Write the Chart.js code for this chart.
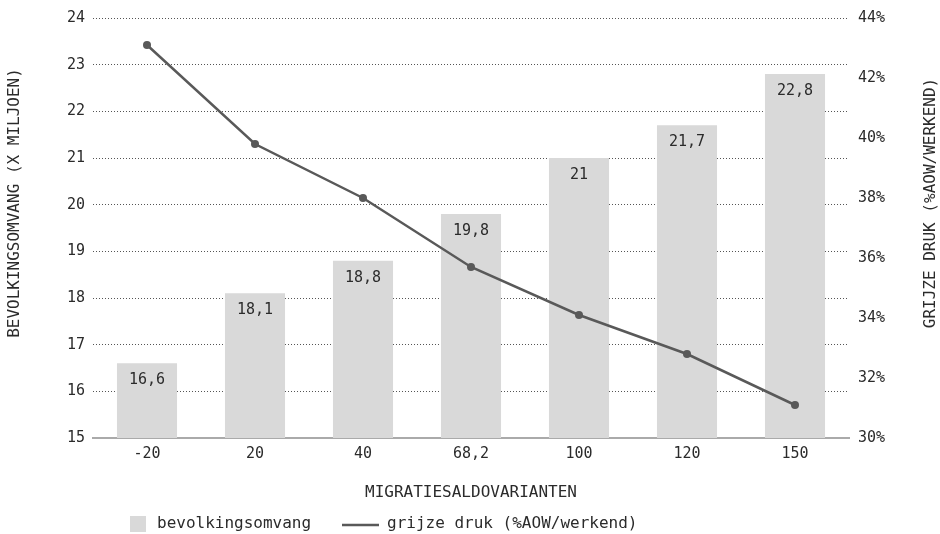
<!DOCTYPE html>
<html>
<head>
<meta charset="utf-8">
<script src="https://cdn.jsdelivr.net/npm/chart.js@4"></script>
<style>
  html, body { margin: 0; padding: 0; background: #fff; }
  #wrap { width: 940px; height: 534px; }
</style>
</head>
<body>
<div id="wrap"><canvas id="chart"></canvas></div>
<script>
const varianten = ["-20", "20", "40", "68,2", "100", "120", "150"];
const bevolking = [16.6, 18.1, 18.8, 19.8, 21, 21.7, 22.8];
const grijzeDruk = [43.1, 39.8, 38.0, 35.7, 34.1, 32.8, 31.1];

const leftTitle = "BEVOLKINGSOMVANG (X MILJOEN)";
const rightTitle = "GRIJZE DRUK (%AOW/WERKEND)";
const xTitle = "MIGRATIESALDOVARIANTEN";

const FONT = '"DejaVu Sans Mono", "Liberation Mono", monospace';
const textColor = "#2b2b2b";
const barColor = "#d9d9d9";
const lineColor = "#595959";

Chart.defaults.font.family = FONT;
Chart.defaults.color = textColor;

//----------- labels in bars, side titles, legend -----------//
const extras = {
  id: "extras",
  afterDatasetsDraw(chart) {
    const ctx = chart.ctx;
    ctx.save();
    ctx.font = "15px " + FONT;
    ctx.fillStyle = textColor;
    ctx.textAlign = "center";
    ctx.textBaseline = "middle";
    chart.getDatasetMeta(0).data.forEach((bar, i) => {
      ctx.fillText(String(bevolking[i]).replace(".", ","), bar.x, bar.y + 17);
    });
    ctx.restore();
  },
  afterDraw(chart) {
    const ctx = chart.ctx;
    ctx.save();
    ctx.font = "16px " + FONT;
    ctx.fillStyle = textColor;
    ctx.textAlign = "center";
    ctx.textBaseline = "middle";

    // side titles, both reading bottom to top
    ctx.save();
    ctx.translate(15, 203);
    ctx.rotate(-Math.PI / 2);
    ctx.fillText(leftTitle, 0, 0);
    ctx.restore();

    ctx.save();
    ctx.translate(931, 203);
    ctx.rotate(-Math.PI / 2);
    ctx.fillText(rightTitle, 0, 0);
    ctx.restore();

    // legend
    const ly = 524;
    ctx.textAlign = "left";
    ctx.fillStyle = barColor;
    ctx.fillRect(130, ly - 8, 16, 16);
    ctx.fillStyle = textColor;
    ctx.fillText(chart.data.datasets[0].label, 157, ly);

    ctx.strokeStyle = lineColor;
    ctx.lineWidth = 2.5;
    ctx.beginPath();
    ctx.moveTo(342, ly + 1);
    ctx.lineTo(379, ly + 1);
    ctx.stroke();
    ctx.fillText(chart.data.datasets[1].label, 387, ly);
    ctx.restore();
  }
};

new Chart("chart", {
  type: "bar",
  data: {
    labels: varianten,
    datasets: [
      {
        label: "bevolkingsomvang",
        data: bevolking,
        backgroundColor: barColor,
        yAxisID: "y",
        barPercentage: 0.556,
        categoryPercentage: 1,
        order: 2
      },
      {
        type: "line",
        label: "grijze druk (%AOW/werkend)",
        data: grijzeDruk,
        yAxisID: "y1",
        borderColor: lineColor,
        backgroundColor: lineColor,
        borderWidth: 2.5,
        pointRadius: 4,
        pointBackgroundColor: lineColor,
        pointBorderWidth: 0,
        tension: 0,
        order: 1
      }
    ]
  },
  options: {
    responsive: true,
    maintainAspectRatio: false,
    animation: false,
    layout: { padding: { top: 18, bottom: 30, left: 0, right: 0 } },
    plugins: {
      legend: { display: false },
      tooltip: { enabled: false }
    },
    scales: {
      x: {
        afterFit: (s) => { s.height = 66; },
        grid: { display: false, drawTicks: false },
        border: { display: true, color: "#aaaaaa", width: 2 },
        ticks: { font: { size: 15 }, padding: 7 },
        title: {
          display: true,
          text: xTitle,
          font: { size: 16 },
          padding: { top: 0, bottom: 2 }
        }
      },
      y: {
        position: "left",
        min: 15,
        max: 24,
        afterFit: (s) => { s.width = 93; },
        ticks: { stepSize: 1, font: { size: 15 }, padding: 8 },
        grid: { color: "#555555", lineWidth: 1, drawTicks: false },
        border: { display: false, dash: [1, 2] }
      },
      y1: {
        position: "right",
        min: 30,
        max: 44,
        afterFit: (s) => { s.width = 91; },
        ticks: {
          stepSize: 2,
          font: { size: 15 },
          padding: 9,
          callback: (v) => v + "%"
        },
        grid: { display: false, drawTicks: false },
        border: { display: false }
      }
    }
  },
  plugins: [extras]
});
</script>
</body>
</html>
